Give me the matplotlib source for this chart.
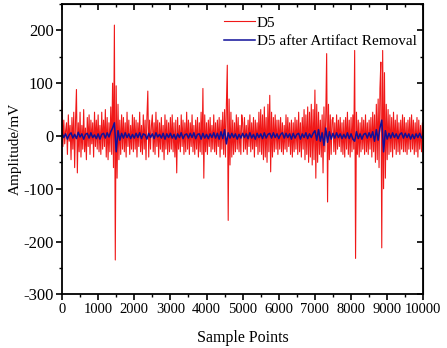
import numpy as np
import matplotlib
matplotlib.use('Agg')
import matplotlib.pyplot as plt
from matplotlib.ticker import MultipleLocator

plt.rcParams['font.family'] = ['Liberation Serif', 'DejaVu Serif']
plt.rcParams['axes.unicode_minus'] = False

# D5 (raw), one value every 25 samples
d5_step = 25
d5 = [
    65, -20, 30, -15, 10, 25, -35, 40, -10, 20, -45, 35, -25, 45, -60, 30, 88, -70, 25, -30,
    45, -40, 20, -25, 50, -30, 15, -45, 35, -20, 40, -35, 30, -15, 25, -40, 45, -20, 30, -25,
    40, -30, 20, -35, 45, -25, 30, -20, 50, -40, 35, -45, 25, -30, 55, -35, 100, -60, 210, -235,
    95, -80, 60, -45, 30, -35, 40, -25, 35, -30, 25, -40, 45, -20, 30, -35, 20, -25, 40, -30,
    35, -25, 30, -40, 25, -20, 45, -30, 20, -35, 40, -25, 30, -45, 35, 85, -40, 30, -25, 20,
    40, -30, 25, -35, 45, -20, 30, -40, 25, -25, 35, -30, 20, -45, 40, -25, 30, -35, 25, -30,
    35, -25, 40, -30, 25, -40, 30, -70, 35, -25, 20, -30, 40, -20, 30, -35, 25, -30, 45, -25,
    30, -35, 25, -20, 40, -30, 20, -35, 30, -25, 35, -40, 25, -30, 45, -35, 90, -80, 40, -30,
    25, -35, 30, -20, 35, -30, 20, -25, 40, -30, 25, -35, 30, -20, 35, -40, 30, -25, 45, -35,
    50, -40, 60, 134, -160, 70, -55, 45, -40, 30, -35, 25, -30, 40, -25, 35, -30, 20, -35, 40,
    25, -30, 35, -25, 20, -35, 30, -20, 40, -30, 25, -25, 35, -40, 30, -20, 25, -35, 45, -30,
    50, -35, 40, -45, 55, -40, 35, -50, 60, -30, 77, -68, 45, -40, 35, -30, 40, -25, 30, -35,
    30, -25, 35, -30, 25, -35, 20, -25, 40, -30, 35, -20, 25, -35, 30, -40, 25, -30, 35, -25,
    30, -35, 45, -30, 25, -40, 35, -25, 50, -45, 40, -35, 55, -50, 45, -40, 60, -55, 50, -45,
    87, -80, 60, -50, 45, -35, 30, -40, 40, -70, 55, -30, 35, 156, -125, 60, -45, 40, -35, 30,
    35, -30, 25, -35, 40, -25, 30, -20, 35, -30, 25, -35, 30, -40, 35, -25, 45, -35, 30, -40,
    35, -30, 40, -25, 162, -232, 45, -35, 30, -40, 25, -30, 35, -25, 30, -35, 40, -30, 25, -35,
    30, -25, 35, -40, 45, -30, 40, -50, 60, -45, 70, -60, 90, 140, -212, 162, -100, 120, -80, 60,
    -45, 50, -35, 40, -30, 35, -40, 45, -25, 30, -35, 40, -30, 25, -35, 30, -25, 40, -30, 35,
    -30, 25, -35, 30, -25, 35, -30, 40, -25, 30, -35, 25, -30, 35, -40, 30, -25, 20, -30, 25,
    -10,
]

# D5 after artifact removal, one value every 50 samples
clean_step = 50
clean = [
    5, -3, 4, -6, 2, 6, -4, 3, -5, 7, -2, 4, -6, 3, 5, -4, 6, -3, 2, -5,
    4, -6, 3, 5, -4, 6, -2, 8, 15, 25, -30, 10, -8, 5, -4, 6, -3, 4, -5, 3,
    -4, 5, -3, 6, -5, 4, 2, -6, 5, -3, 4, -5, 6, -2, 3, -4, 5, -6, 4, -3,
    5, -4, 3, -6, 4, -3, 6, -5, 2, 4, -4, 5, -3, 6, -5, 3, 4, -6, 5, -4,
    3, -5, 4, -3, 6, -4, 5, -6, 8, -5, 12, -15, 6, -4, 5, -3, 4, -6, 3, -4,
    5, -3, 4, -5, 6, -4, 3, -6, 5, -3, 4, -5, 6, -4, 3, 5, -4, 6, -3, 4,
    -5, 3, 6, -4, 5, -3, 4, -6, 5, -4, 3, 5, -6, 4, -3, 6, -5, 4, -3, 5,
    10, -8, 12, -10, 6, -18, 15, -12, 8, -6, 5, -4, 6, -3, 4, -5, 3, -4, 6, -5,
    4, -6, -10, 8, -5, 4, -6, 3, 5, -4, 6, -3, 8, -10, 12, -8, 15, 30, -30, 10,
    -6, 5, -4, 6, -3, 4, -5, 3, 6, -4, 5, -3, 4, -6, 3, -5, 4, -3, 5, -4,
    2,
]

x_d5 = np.arange(len(d5)) * d5_step
x_clean = np.arange(len(clean)) * clean_step

fig = plt.figure(figsize=(4.47, 3.48), dpi=100)
ax = fig.add_axes([0.1387, 0.1543, 0.8083, 0.8342])

ax.plot(x_d5, d5, color='#f01818', lw=0.8, label='D5')
ax.plot(x_clean, clean, color='#10109a', lw=1.1, label='D5 after Artifact Removal')

ax.set_xlim(0, 10000)
ax.set_ylim(-300, 250)
ax.xaxis.set_major_locator(MultipleLocator(1000))
ax.xaxis.set_minor_locator(MultipleLocator(500))
ax.yaxis.set_minor_locator(MultipleLocator(50))
ax.set_yticks([-300, -200, -100, 0, 100, 200])

ax.tick_params(which='major', direction='out', length=4.5, width=1.2)
ax.tick_params(which='minor', direction='out', length=2.5, width=1.0)
ax.tick_params(axis='x', labelsize=10.5, pad=2)
ax.tick_params(axis='y', labelsize=12, pad=1.5)
for s in ax.spines.values():
    s.set_linewidth(1.3)

# mirrored ticks on top and right, pointing inward
top = ax.secondary_xaxis('top')
top.xaxis.set_major_locator(MultipleLocator(1000))
top.xaxis.set_minor_locator(MultipleLocator(500))
top.tick_params(which='major', direction='in', length=4.5, width=1.2, labeltop=False)
top.tick_params(which='minor', direction='in', length=2.5, width=1.0)
right = ax.secondary_yaxis('right')
right.yaxis.set_major_locator(MultipleLocator(100))
right.yaxis.set_minor_locator(MultipleLocator(50))
right.tick_params(which='major', direction='in', length=4.5, width=1.2, labelright=False)
right.tick_params(which='minor', direction='in', length=2.5, width=1.0)

ax.set_xlabel('Sample Points', fontsize=11.5, labelpad=10)
ax.set_ylabel('Amplitude/mV', fontsize=11, labelpad=1)

ax.legend(loc='upper left', bbox_to_anchor=(0.42, 0.995), frameon=False,
          fontsize=11, handlelength=2.0, handletextpad=0.1, labelspacing=0.3,
          borderaxespad=0.3)

fig.savefig('out.png', dpi=100)
